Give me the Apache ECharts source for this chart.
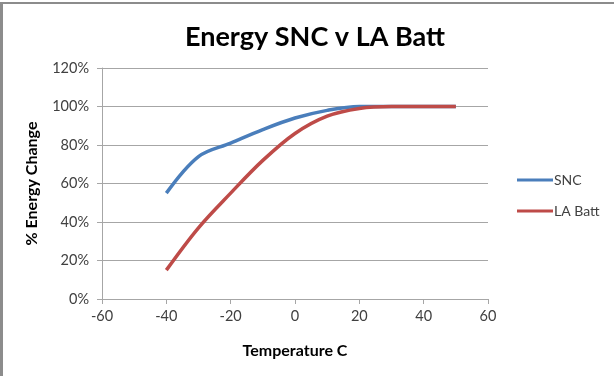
<!DOCTYPE html>
<html>
<head>
<meta charset="utf-8">
<script src="https://cdn.jsdelivr.net/npm/echarts@6/dist/echarts.min.js"></script>
<style>
  html, body { margin: 0; padding: 0; background: #fff; }
  #frame { position: absolute; left: 0; top: 0; width: 614px; height: 376px; }
  #frame:before { content: ''; position: absolute; left: 0; top: 2px; width: 614px; height: 2px; background: #8c8c8c; }
  #frame:after { content: ''; position: absolute; left: 0; top: 2px; width: 3px; height: 374px; background: #8c8c8c; }
  #chart { position: absolute; left: 0; top: 0; width: 614px; height: 376px; }
</style>
</head>
<body>
<div id="frame"></div>
<div id="chart"></div>
<script>
// temperatures (C) and % energy remaining
var temps = [-40, -30, -20, -10, 0, 10, 20, 30, 40, 50];
var snc = [55, 74, 81, 88, 94, 98, 100, 100, 100, 100];
var laBatt = [15, 37, 55, 72, 86, 95, 99, 100, 100, 100];
var seriesNames = ['SNC', 'LA Batt'];

function pairs(xs, ys) {
  return xs.map(function(x, i) { return [x, ys[i]]; });
}

var font = 'Lato, "Open Sans", sans-serif';
var gridColor = '#a6a6a6';
var textColor = '#404040';

var chart = echarts.init(document.getElementById('chart'), null, { renderer: 'canvas' });
chart.setOption({
  animation: false,
  title: {
    text: 'Energy SNC v LA Batt',
    left: 310,
    textAlign: 'center',
    top: 19,
    textStyle: { fontFamily: font, fontSize: 27, fontWeight: 'bold', color: '#000' }
  },
  legend: {
    orient: 'vertical',
    left: 512,
    top: 168,
    itemWidth: 36,
    itemHeight: 14,
    itemGap: 17,
    icon: 'path://M0,6 L36,6 L36,9 L0,9 Z',
    textStyle: { fontFamily: font, fontSize: 14, color: textColor, padding: [0, 0, 0, -4] },
    data: seriesNames
  },
  grid: { left: 102, right: 126, top: 68, bottom: 77 },
  xAxis: {
    type: 'value',
    min: -60, max: 60, interval: 20,
    name: 'Temperature C',
    nameLocation: 'middle',
    nameGap: 44,
    nameTextStyle: { fontFamily: font, fontSize: 16, fontWeight: 'bold', color: '#000' },
    axisLine: { onZero: false, lineStyle: { color: gridColor } },
    axisTick: { show: true, length: 5, lineStyle: { color: gridColor } },
    axisLabel: { fontFamily: font, fontSize: 14.5, color: textColor, margin: 10 },
    splitLine: { show: false }
  },
  yAxis: {
    type: 'value',
    min: 0, max: 120, interval: 20,
    name: '% Energy Change',
    nameLocation: 'middle',
    nameRotate: 90,
    nameGap: 62,
    nameTextStyle: { fontFamily: font, fontSize: 16, fontWeight: 'bold', color: '#000' },
    axisLine: { show: true, onZero: false, lineStyle: { color: gridColor } },
    axisTick: { show: true, length: 5, lineStyle: { color: gridColor } },
    axisLabel: { fontFamily: font, fontSize: 14.5, color: textColor, margin: 13, formatter: '{value}%' },
    splitLine: { lineStyle: { color: gridColor, width: 1 } }
  },
  series: [
    {
      name: seriesNames[0],
      type: 'line',
      smooth: 0.35,
      showSymbol: false,
      lineStyle: { color: '#4a7ebb', width: 3.5 },
      itemStyle: { color: '#4a7ebb' },
      data: pairs(temps, snc)
    },
    {
      name: seriesNames[1],
      type: 'line',
      smooth: 0.35,
      showSymbol: false,
      lineStyle: { color: '#be4b48', width: 3.5 },
      itemStyle: { color: '#be4b48' },
      data: pairs(temps, laBatt)
    }
  ]
});
</script>
</body>
</html>
